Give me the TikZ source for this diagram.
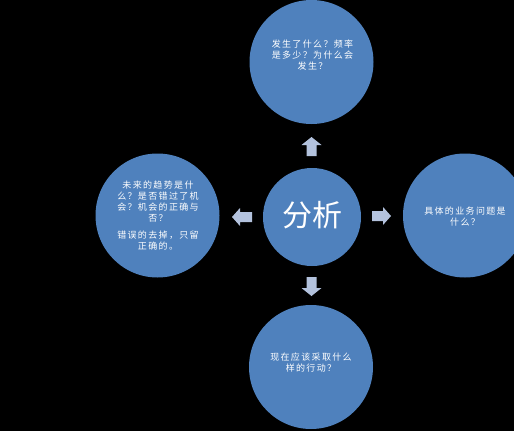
\documentclass[tikz,border=0pt]{standalone}
\usepackage{fontspec}
\newfontfamily\cjk[LetterSpace=15]{Noto Sans CJK SC}
\newfontfamily\cjkbig{Noto Sans CJK SC}
\definecolor{circfill}{HTML}{4F81BD}
\definecolor{arrfill}{HTML}{B3C2DD}
\begin{document}
\begin{tikzpicture}[x=1pt,y=-1pt,
  bubble/.style={circle,fill=circfill,inner sep=0pt},
  label/.style={text=white,align=center,font=\cjk\fontsize{9}{11}\selectfont,inner sep=0pt},
  arrowfill/.style={fill=arrfill}]
\useasboundingbox (0,0) rectangle (514,431);
\fill[black] (0,0) rectangle (514,431);
\begin{scope}
\clip (0,0) rectangle (514,431);
\node[bubble,minimum size=124pt] (top) at (311.5,62) {};
\node[bubble,minimum size=124pt] (left) at (157.5,215.5) {};
\node[bubble,minimum size=124pt] (right) at (465,215.5) {};
\node[bubble,minimum size=124pt] (bottom) at (311,367) {};
\node[bubble,minimum size=98pt] (center) at (312,217) {};
\end{scope}
\node[text=white,font=\cjkbig\fontsize{30}{32}\selectfont,inner sep=0pt] (ctext) at (312,215) {分析};
\node[label] (ttext) at (312.5,55) {发生了什么？频率\\是多少？为什么会\\发生？};
\node[label] (ltext) at (158,216) {未来的趋势是什\\么？是否错过了机\\会？机会的正确与\\否？\\[6pt]错误的去掉，只留\\正确的。};
\node[label] (rtext) at (465,216.5) {具体的业务问题是\\什么？};
\node[label] (btext) at (311,362.5) {现在应该采取什么\\样的行动？};
% block arrows
\fill[arrowfill] (311.5,137) -- (321.5,145) -- (316.5,145) -- (316.5,156) -- (306.5,156) -- (306.5,145) -- (301.5,145) -- cycle;
\fill[arrowfill] (311.5,296) -- (321.5,288) -- (316.5,288) -- (316.5,277) -- (306.5,277) -- (306.5,288) -- (301.5,288) -- cycle;
\fill[arrowfill] (232,217) -- (240,208) -- (240,212) -- (252,212) -- (252,222) -- (240,222) -- (240,226) -- cycle;
\fill[arrowfill] (391,216) -- (383,207) -- (383,211) -- (372,211) -- (372,221) -- (383,221) -- (383,225) -- cycle;
\end{tikzpicture}
\end{document}
